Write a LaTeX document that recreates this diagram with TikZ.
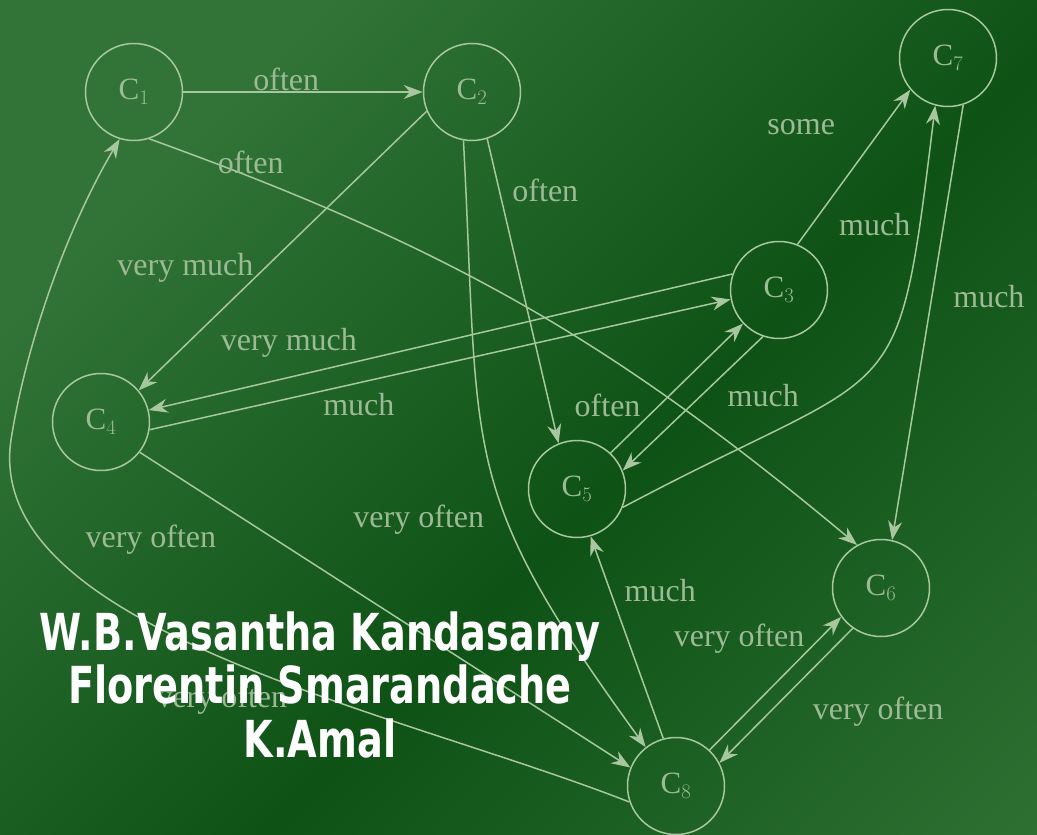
\documentclass[tikz,border=0pt]{standalone}
\usepackage{fontspec}
\setmainfont{Liberation Serif}
\newfontfamily\authorfont[FakeStretch=0.75]{DejaVu Sans}
\usetikzlibrary{arrows.meta, automata}

\definecolor{chalk}{RGB}{168,198,160}
\definecolor{chalktext}{RGB}{156,186,150}
\definecolor{boardlight}{RGB}{50,116,56}
\definecolor{boarddark}{RGB}{14,82,22}
\definecolor{boardlow}{RGB}{46,112,50}

\begin{document}
\begin{tikzpicture}[->,>={Stealth[length=19pt,width=14pt]},x=1pt,y=1pt,line width=1.5pt,color=chalk]
	\tikzstyle{every state}=[fill=none,draw=chalk,text=chalktext,minimum size=97pt,inner sep=0pt,line width=1.5pt,font=\fontsize{31}{34}\selectfont]
	\tikzstyle{lbl}=[text=chalktext,font=\fontsize{32}{36}\selectfont,inner sep=0pt]
	\tikzstyle{author}=[text=white,font=\authorfont\bfseries\fontsize{51}{54}\selectfont,anchor=base]
	
	% board, dark band a bit right of the middle
	\useasboundingbox (0,0) rectangle (1037,-835);
	\clip (0,0) rectangle (1037,-835);
	\shade[-,top color=boardlight,bottom color=boardlow,middle color=boarddark,shading angle=45] (0,0) rectangle (1300,-900);
	
	\node[state] (C1) at (134,-92)  {C$_1$};
	\node[state] (C2) at (472,-92)  {C$_2$};
	\node[state] (C7) at (948,-58)  {C$_7$};
	\node[state] (C3) at (779,-290) {C$_3$};
	\node[state] (C4) at (101,-422) {C$_4$};
	\node[state] (C5) at (577,-489) {C$_5$};
	\node[state] (C6) at (881,-588) {C$_6$};
	\node[state] (C8) at (676,-786) {C$_8$};
	
	\path (C1.0) edge node[lbl,pos=0.43,yshift=13pt] {often} (C2.180)
	(C1.-72) edge[bend left=10] node[lbl,pos=0.11,xshift=7pt,yshift=12pt] {often} (C6.119)
	(C2.203) edge node[lbl,pos=0.56,xshift=-80pt] {very much} (C4.40)
	(C2.-72) edge node[lbl,pos=0.17,xshift=46pt] {often} (C5.112)
	(C2.-100) edge[out=-87,in=126,looseness=1.3] node[lbl,pos=0.6,xshift=-86pt,yshift=-6pt] {very often} (C8.128)
	(C3.161) edge node[lbl,pos=0.76,yshift=35pt] {very much} (C4.14)
	(C4.-9) edge node[lbl,pos=0.36,yshift=-22pt] {much} (C3.191)
	(C3.68) edge node[lbl,pos=0.76,xshift=-82pt] {some} (C7.220)
	(C5.-22) edge[out=28,in=-97,looseness=1.6] node[lbl,pos=0.85,xshift=-45pt] {much} (C7.-105)
	(C7.-72) edge node[lbl,pos=0.44,xshift=57pt] {much} (C6.77)
	(C5.47) edge node[lbl,pos=0.37,xshift=-52pt] {often} (C3.223)
	(C3.-109) edge node[lbl,pos=0.44,xshift=62pt] {much} (C5.22)
	(C8.105) edge node[lbl,pos=0.73,xshift=50pt] {much} (C5.-74)
	(C4.-38) edge node[lbl,pos=0.1,xshift=-38pt,yshift=-56pt] {very often} (C8.158)
	(C8.47) edge node[lbl,pos=0.84,xshift=-81pt] {very often} (C6.216)
	(C6.235) edge node[lbl,pos=0.62,xshift=108pt] {very often} (C8.28);
	\draw (C8.199) .. controls (395,-710) and (-17,-630) .. (11,-440) node[lbl,pos=0.5,yshift=-42pt] {very often}
	.. controls (25,-350) and (64,-233) .. (C1.-107);
	
	\node[author] (name1) at (320,-650) {W.B.Vasantha Kandasamy};
	\node[author] (name2) at (320,-703) {Florentin Smarandache};
	\node[author] (name3) at (320,-757) {K.Amal};
\end{tikzpicture}
\end{document}
